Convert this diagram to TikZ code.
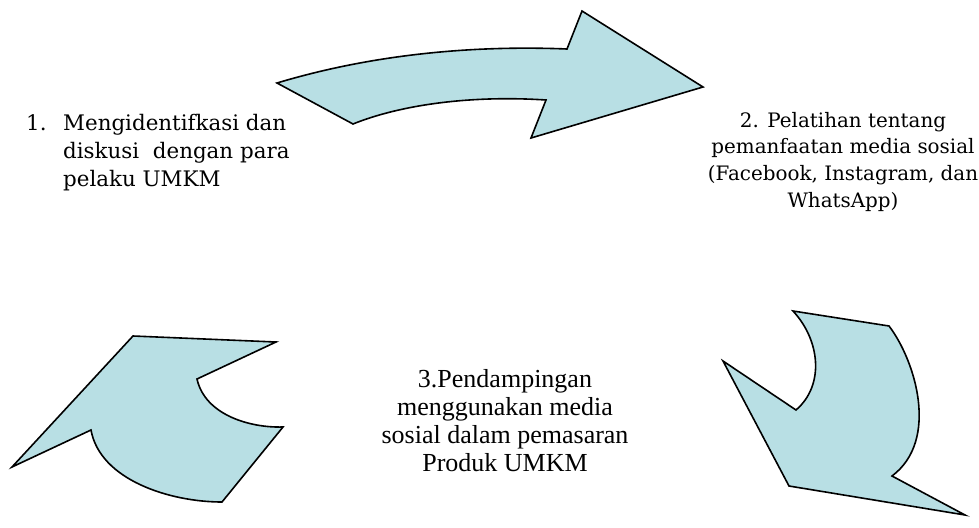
\documentclass[tikz,border=0pt]{standalone}
\usepackage{fontspec}
\setmainfont{Liberation Serif}
\newfontfamily\cambriafont{DejaVu Serif}
\usetikzlibrary{positioning}
\definecolor{arrowblue}{RGB}{184,223,228}
\tikzset{%
  bigarrow/.style = { fill = arrowblue, draw = black, line width = 1.6pt, line join = miter },
  steptext/.style = { inner sep = 0pt, anchor = base, font = #1 }
}

\begin{document}
\begin{tikzpicture}[x=1pt, y=-1pt]
  \useasboundingbox (0,0) rectangle (979,527);
  % arrows
  \draw[bigarrow] (277,83) .. controls (370,55) and (470,45) .. (567,49) -- (582,11) -- (703,87)
    -- (531,138) -- (546,100) .. controls (470,95) and (400,105) .. (353,124) -- cycle;
  \draw[bigarrow] (793,311) -- (889,326) .. controls (915,360) and (940,440) .. (892,476) -- (965,515)
    -- (789,486) -- (723,361) -- (796,410) .. controls (825,385) and (820,340) .. (793,311) -- cycle;
  \draw[bigarrow] (133,336) -- (276,342) -- (197,379) .. controls (205,415) and (250,428) .. (283,427)
    -- (222,502) .. controls (170,502) and (100,480) .. (91,430) -- (12,467) -- cycle;
  % texts
  \node(one)[steptext=\cambriafont\fontsize{21.4}{28}\selectfont, anchor = base west] at (26,130)
    {\begin{tabular}[t]{@{}p{37pt}@{}l@{}}
      1. & Mengidentifkasi dan\\
         & diskusi\ \ dengan para\\
         & pelaku UMKM
    \end{tabular}};
  \node(two)[steptext=\cambriafont\fontsize{19.9}{26.7}\selectfont] at (843,127)
    {\begin{tabular}[t]{@{}c@{}}
      2. Pelatihan tentang\\
      pemanfaatan media sosial\\
      (Facebook, Instagram, dan\\
      WhatsApp)
    \end{tabular}};
  \node(three)[steptext=\fontsize{26}{28}\selectfont] at (505,387)
    {\begin{tabular}[t]{@{}c@{}}
      3.Pendampingan\\
      menggunakan media\\
      sosial dalam pemasaran\\
      Produk UMKM
    \end{tabular}};
\end{tikzpicture}
\end{document}
